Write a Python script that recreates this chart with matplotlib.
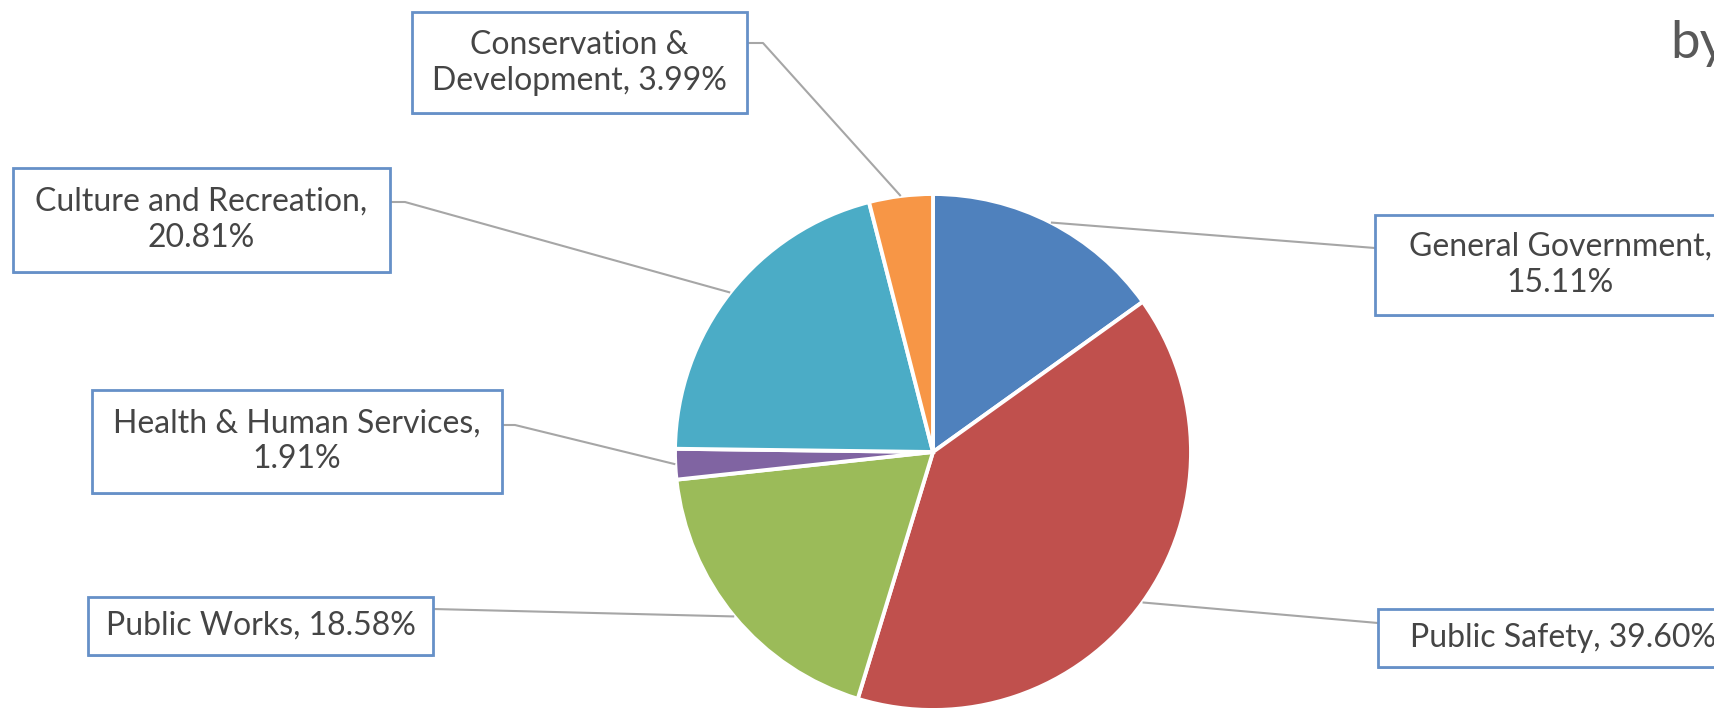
import numpy as np
import matplotlib.pyplot as plt
from matplotlib.patches import Rectangle

# spending share by function, clockwise from 12 o'clock
categories = ["General Government", "Public Safety", "Public Works",
              "Health & Human Services", "Culture and Recreation",
              "Conservation & Development"]
shares = [15.11, 39.60, 18.58, 1.91, 20.81, 3.99]
label_text = ["General Government,\n15.11%", "Public Safety, 39.60%",
              "Public Works, 18.58%", "Health & Human Services,\n1.91%",
              "Culture and Recreation,\n20.81%", "Conservation &\nDevelopment, 3.99%"]
colors = ["#4F81BD", "#C0504D", "#9BBB59", "#8064A2", "#4BACC6", "#F79646"]

W, H = 1714, 708
cx, cy, rad = 933, 452, 258

# label boxes in pixel space (x0, y0 top, x1, y1 bottom), and where the leader meets them
boxes = [(1375, 215, 1760, 315), (1378, 609, 1760, 667), (88, 597, 433, 655),
         (92, 390, 502, 493), (13, 168, 390, 272), (412, 12, 747, 113)]
anchors = [[(1375, 248)], [(1378, 623)], [(433, 609)],
           [(515, 425), (502, 425)], [(405, 202), (390, 202)], [(763, 43), (747, 43)]]


def Y(y):
    return H - y


plt.rcParams['font.family'] = ['Lato', 'DejaVu Sans']
fig = plt.figure(figsize=(W / 100, H / 100), dpi=100)
ax = fig.add_axes([0, 0, 1, 1])

ax.pie(shares, colors=colors, startangle=90, counterclock=False,
       center=(cx, Y(cy)), radius=rad,
       wedgeprops=dict(edgecolor="white", linewidth=2.8))
ax.set_xlim(0, W)
ax.set_ylim(0, H)
ax.set_aspect("equal")
ax.axis("off")

cum = np.cumsum([0] + shares[:-1])
for i, v in enumerate(shares):
    theta = np.deg2rad(90 - 3.6 * (cum[i] + v / 2))
    px = cx + rad * np.cos(theta)
    py = cy - rad * np.sin(theta)
    pts = [(px, py)] + anchors[i]
    ax.plot([p[0] for p in pts], [Y(p[1]) for p in pts], color="#A6A6A6", lw=1.5,
            solid_capstyle="butt", zorder=1)

    x0, y0, x1, y1 = boxes[i]
    ax.add_patch(Rectangle((x0, Y(y1) - 2), x1 - x0, 3, facecolor="#AFC6E2",
                           edgecolor="none", zorder=2))
    ax.add_patch(Rectangle((x0, Y(y1)), x1 - x0, y1 - y0, facecolor="white",
                           edgecolor="#6690C8", lw=2.0, zorder=3))
    tx = (x0 + x1) / 2
    if x1 > W:
        tx = x0 + 185
    ax.text(tx, Y((y0 + y1) / 2), label_text[i], ha="center", va="center",
            fontsize=23, color="#454545", linespacing=1.25, zorder=4)

ax.text(1670, Y(58), "by", ha="left", va="baseline", fontsize=38, color="#595959")

fig.savefig("out.png", dpi=100)
